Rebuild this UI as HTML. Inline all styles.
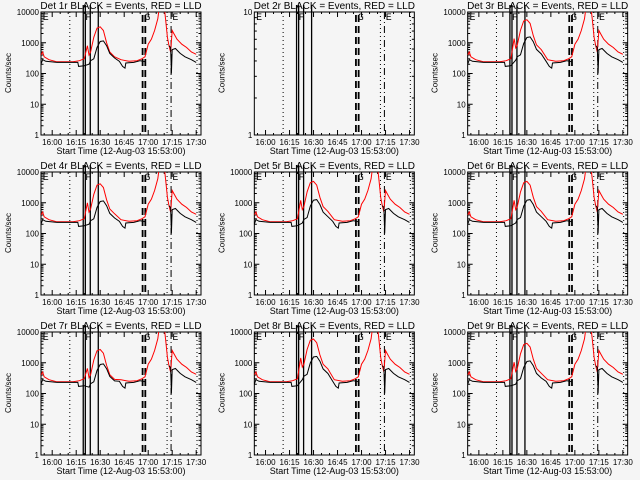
<!DOCTYPE html>
<html><head><meta charset="utf-8"><style>
html,body{margin:0;padding:0;background:#f5f5f5;}
svg{display:block;font-family:"Liberation Sans",sans-serif;}
</style></head><body>
<svg id="chart" width="640" height="480" viewBox="0 0 640 480"></svg>
<script>
// Data (minutes after 15:53:00)
const detectorNames = ["1r","2r","3r","4r","5r","6r","7r","8r","9r"];
const blackTimes = [0,1,3,10,20,23,23.5,27,30,31,33,35,37,39,41,43,46,49,51,52.5,53,58,62,64,65];
const blackValues = [200,280,250,230,230,230,170,180,200,260,300,700,1100,1150,800,450,320,250,170,150,220,230,260,250,240];
const blackTimes2 = [80,81,81.5,82,84,87,90,94,97];
const blackValues2 = [800,700,100,600,650,450,350,280,230];
const redTimes = [0,1,2,5,10,20,24,27,29,30,31,33,35,37,39,41,43,46,50,55,60,63,65,67,69,71,73,74,77,78,79,80,81,82,83,85,88,91,94,97];
const redValues = [400,500,350,280,240,240,260,300,800,400,500,1500,3000,3300,2500,1000,500,350,280,250,260,300,350,900,1300,2500,6000,15000,15000,5000,1500,800,500,2500,2000,1300,900,700,500,420];
// per-detector flare-hump scale factors
const redPeakScale = [1,0,1.7,1.25,1.5,1.5,0.82,1.8,1.3];
const blackPeakScale = [1,0,1.35,1.0,1.1,1.1,0.8,1.4,1.0];
const hasData = [true,false,true,true,true,true,true,true,true];
const xTickLabels = ["16:00","16:15","16:30","16:45","17:00","17:15","17:30"];
const xTickMinutes = [7,22,37,52,67,82,97];
const yTickLabelsLog = ["1","10","100","1000","10000"];
const solidLines = [26.4,27.7,30.8,35.8];
const dashedLines = [63.5,65.2];
const dashDotLines = [81.3];
const dottedLines = [18,78.8,97.5];

const NS="http://www.w3.org/2000/svg";
const svg=document.getElementById('chart');
function mk(tag,attrs,parent){const e=document.createElementNS(NS,tag);for(const k in attrs)e.setAttribute(k,attrs[k]);(parent||svg).appendChild(e);return e;}

for(let i=0;i<9;i++){
  const col=i%3,row=Math.floor(i/3);
  const ox=col*213.33,oy=row*160;
  const L=ox+41,R=ox+201,T=oy+12,B=oy+135;
  const g=mk('g',{});
  
  
  const logMin=0,logMax=hasData[i]?4:1;
  const xs=t=>L+t*(R-L)/100;
  const ys=v=>B-(Math.log10(Math.max(v,1))-logMin)/(logMax-logMin)*(B-T);
  const box=mk('rect',{x:L,y:T,width:R-L,height:B-T,fill:'none',stroke:'#000','stroke-width':1},g);
  
  
  const tt=mk('text',{x:ox+121,y:oy+9,'text-anchor':'middle','font-size':10},g);
  tt.textContent='Det '+detectorNames[i]+' BLACK = Events, RED = LLD';
  
  
  const yl=mk('text',{x:ox+11,y:oy+73,'text-anchor':'middle','font-size':8,transform:`rotate(-90 ${ox+11} ${oy+73})`},g);
  yl.textContent='Counts/sec';
  
  
  const xl=mk('text',{x:ox+121,y:oy+154,'text-anchor':'middle','font-size':9},g);
  xl.textContent='Start Time (12-Aug-03 15:53:00)';
  
  
  xTickMinutes.forEach((m,k)=>{
    const x=xs(m);
    mk('line',{x1:x,y1:B,x2:x,y2:B-5,stroke:'#000'},g);
    mk('line',{x1:x,y1:T,x2:x,y2:T+5,stroke:'#000'},g);
    const tl=mk('text',{x:x,y:B+10,'text-anchor':'middle','font-size':8},g);
    tl.textContent=xTickLabels[k];
    
    
  });
  for(let m=2;m<100;m+=5){const x=xs(m);if(xTickMinutes.includes(m))continue;
    mk('line',{x1:x,y1:B,x2:x,y2:B-2,stroke:'#000'},g);mk('line',{x1:x,y1:T,x2:x,y2:T+2,stroke:'#000'},g);}
  for(let d=logMin;d<=logMax;d++){
    const y=ys(Math.pow(10,d));
    mk('line',{x1:L,y1:y,x2:L+5,y2:y,stroke:'#000'},g);
    mk('line',{x1:R,y1:y,x2:R-5,y2:y,stroke:'#000'},g);
    const yt=mk('text',{x:L-2,y:y+3,'text-anchor':'end','font-size':8},g);
    yt.textContent=yTickLabelsLog[d];
    
    
    if(d<logMax)for(let s=2;s<10;s++){const yy=ys(s*Math.pow(10,d));
      mk('line',{x1:L,y1:yy,x2:L+2.5,y2:yy,stroke:'#000'},g);mk('line',{x1:R,y1:yy,x2:R-2.5,y2:yy,stroke:'#000'},g);}
  }
  dottedLines.forEach(t=>{mk('line',{x1:xs(t),y1:T,x2:xs(t),y2:B,stroke:'#000','stroke-dasharray':'1,3'},g);});
  solidLines.forEach(t=>{mk('line',{x1:xs(t),y1:T-7,x2:xs(t),y2:B,stroke:'#000','stroke-width':1.3},g);});
  dashedLines.forEach(t=>{mk('line',{x1:xs(t),y1:T+3,x2:xs(t),y2:B,stroke:'#000','stroke-width':1.8,'stroke-dasharray':'7,4'},g);});
  dashDotLines.forEach(t=>{mk('line',{x1:xs(t),y1:T,x2:xs(t),y2:B,stroke:'#000','stroke-dasharray':'7,3,1,3'},g);});
  [['E',0.5],['F',27],['G',64],['E',81.5]].forEach(([c,t])=>{
    const m=mk('text',{x:xs(t)+1,y:T+8,'font-size':10,'font-family':'Liberation Mono, monospace'},g);m.textContent=c;
    
    
  });
  if(!hasData[i])continue;
  const clip='clip'+i;
  const cp=mk('clipPath',{id:clip},g);mk('rect',{x:L,y:T,width:R-L,height:B-T},cp);
  const scl=(t,v,s)=>(t>=29&&t<=48)?v*s:v;
  const redPts=redTimes.map((t,k)=>xs(t).toFixed(1)+','+ys(scl(t,redValues[k],redPeakScale[i])).toFixed(1)).join(' ');
  const red=mk('polyline',{points:redPts,fill:'none',stroke:'#ff0000','stroke-width':1,'clip-path':`url(#${clip})`},g);
  
  
  const bPts=blackTimes.map((t,k)=>xs(t).toFixed(1)+','+ys(scl(t,blackValues[k],blackPeakScale[i])).toFixed(1)).join(' ');
  const bl=mk('polyline',{points:bPts,fill:'none',stroke:'#000','stroke-width':1,'clip-path':`url(#${clip})`},g);
  
  
  const bPts2=blackTimes2.map((t,k)=>xs(t).toFixed(1)+','+ys(blackValues2[k]).toFixed(1)).join(' ');
  const bl2=mk('polyline',{points:bPts2,fill:'none',stroke:'#000','stroke-width':1,'clip-path':`url(#${clip})`},g);
  
  
}
</script>
</body></html>
